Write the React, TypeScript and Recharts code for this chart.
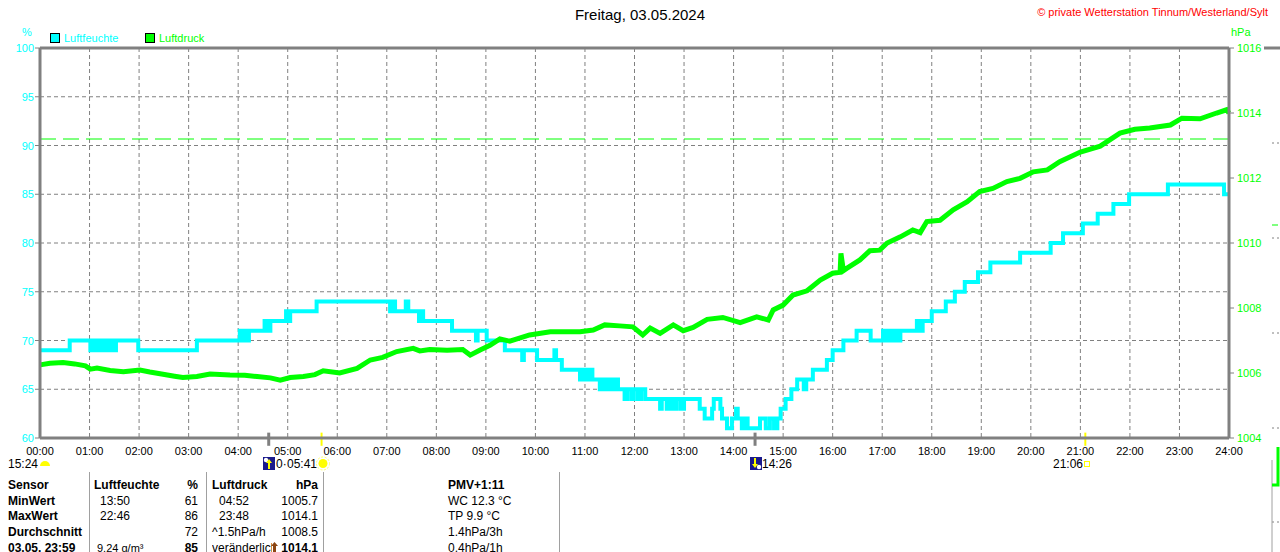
import React from 'react';
import { LineChart, Line, XAxis, YAxis, CartesianGrid, ReferenceLine } from 'recharts';

const FONT = '"Liberation Sans", Arial, sans-serif';
const CYAN = '#00FFFF';
const GREEN = '#00FF00';
const GRAY = '#808080';

// time in minutes since midnight
const hourTicks = [0, 60, 120, 180, 240, 300, 360, 420, 480, 540, 600, 660, 720, 780, 840, 900, 960, 1020, 1080, 1140, 1200, 1260, 1320, 1380, 1440];
const humidityTicks = [60, 65, 70, 75, 80, 85, 90, 95, 100];
const pressureTicks = [1004, 1006, 1008, 1010, 1012, 1014, 1016];

// humidity (%) step breakpoints: [minute, value]
const humidityRaw: [number, number][] = [
  [0, 69], [36, 70], [61, 69], [64, 70], [68, 69], [71, 70], [75, 69], [79, 70], [82, 69], [86, 70], [90, 69], [92, 70],
  [119, 69], [190, 70], [242, 71], [245, 70], [248, 71], [251, 70], [253, 71], [272, 72], [275, 71], [279, 72],
  [298, 73], [300, 72], [303, 73], [335, 74], [424, 73], [428, 74], [430, 73], [443, 74], [446, 73],
  [459, 72], [462, 73], [464, 72], [499, 71], [528, 70], [530, 71], [541, 70], [563, 69], [584, 68], [586, 69],
  [602, 68], [623, 69], [625, 68], [632, 67], [654, 66], [658, 67], [662, 66], [665, 67], [669, 66],
  [678, 65], [681, 66], [685, 65], [689, 66], [693, 65], [696, 66], [700, 65], [708, 64], [711, 65], [716, 64],
  [719, 65], [724, 64], [728, 65], [733, 64], [751, 63], [753, 64], [759, 63], [763, 64], [767, 63], [771, 64],
  [776, 63], [780, 64], [799, 63], [805, 62], [814, 63], [816, 64], [824, 63], [826, 62], [832, 61], [838, 62],
  [843, 63], [845, 62], [850, 61], [854, 62], [857, 61], [872, 62], [879, 61], [884, 62], [889, 61], [893, 62],
  [897, 63], [903, 64], [910, 65], [917, 66], [925, 65], [928, 66], [936, 67], [953, 68], [960, 69], [973, 70],
  [989, 71], [1006, 70], [1021, 71], [1025, 70], [1028, 71], [1032, 70], [1035, 71], [1039, 70], [1042, 71],
  [1062, 72], [1065, 71], [1069, 72], [1080, 73], [1097, 74], [1108, 75], [1120, 76], [1136, 77], [1151, 78],
  [1187, 79], [1224, 80], [1239, 81], [1263, 82], [1281, 83], [1300, 84], [1319, 85], [1366, 86], [1434, 85], [1440, 85],
];

// air pressure (hPa): [minute, value]
const pressureRaw: [number, number][] = [
  [0, 1006.25], [12, 1006.3], [28, 1006.32], [42, 1006.28], [55, 1006.22], [61, 1006.12], [69, 1006.15], [85, 1006.08],
  [101, 1006.04], [121, 1006.09], [133, 1006.03], [149, 1005.96], [163, 1005.9], [173, 1005.86], [190, 1005.89],
  [206, 1005.97], [230, 1005.94], [248, 1005.93], [263, 1005.89], [279, 1005.85], [291, 1005.78], [303, 1005.86],
  [319, 1005.89], [333, 1005.95], [343, 1006.07], [363, 1006.0], [384, 1006.14], [400, 1006.4], [415, 1006.48],
  [432, 1006.66], [452, 1006.76], [460, 1006.68], [472, 1006.72], [493, 1006.7], [512, 1006.72], [521, 1006.55],
  [533, 1006.71], [545, 1006.85], [557, 1007.05], [569, 1006.98], [593, 1007.17], [618, 1007.27], [654, 1007.27],
  [670, 1007.32], [684, 1007.48], [702, 1007.45], [718, 1007.42], [730, 1007.17], [739, 1007.38], [751, 1007.22],
  [767, 1007.48], [779, 1007.3], [791, 1007.4], [808, 1007.65], [827, 1007.71], [848, 1007.55], [868, 1007.73],
  [882, 1007.63], [888, 1007.94], [900, 1008.09], [912, 1008.4], [929, 1008.53], [945, 1008.86], [960, 1009.07],
  [969, 1009.1], [970, 1009.68], [973, 1009.15], [977, 1009.22], [993, 1009.48], [1005, 1009.76], [1017, 1009.78],
  [1026, 1010.0], [1042, 1010.19], [1057, 1010.4], [1066, 1010.32], [1074, 1010.66], [1090, 1010.7], [1106, 1011.02],
  [1123, 1011.27], [1138, 1011.58], [1154, 1011.68], [1171, 1011.89], [1187, 1011.99], [1203, 1012.19], [1220, 1012.25],
  [1235, 1012.5], [1260, 1012.8], [1284, 1012.98], [1308, 1013.38], [1326, 1013.5], [1344, 1013.54], [1369, 1013.63],
  [1383, 1013.84], [1405, 1013.82], [1425, 1014.0], [1437, 1014.1], [1440, 1014.0],
];

const standardPressure = 1013.2;

// astronomical events on the time axis
const events = [
  { t: 277, color: GRAY, width: 3 }, // moonrise 04:37
  { t: 341, color: '#FFFF00', width: 2 }, // sunrise 05:41
  { t: 866, color: GRAY, width: 3 }, // moonset 14:26
  { t: 1266, color: '#FFFF00', width: 2 }, // sunset 21:06
];

const humidityData = humidityRaw.map(([t, v]) => ({ t, h: v }));
const pressureData = pressureRaw.map(([t, v]) => ({ t, p: v }));

const fmtHour = (m: number) => `${String(Math.round(m / 60)).padStart(2, '0')}:00`;

const LeftTick = (props: any) => {
  const { x, y, payload } = props;
  return (
    <text x={x} y={y} dy={4} textAnchor="end" fill={CYAN} fontSize={11} fontFamily={FONT}>
      {payload.value}
    </text>
  );
};
const RightTick = (props: any) => {
  const { x, y, payload } = props;
  return (
    <text x={x} y={y} dy={4} textAnchor="start" fill={GREEN} fontSize={11} fontFamily={FONT}>
      {payload.value}
    </text>
  );
};
const BottomTick = (props: any) => {
  const { x, y, payload } = props;
  return (
    <text x={x} y={y} dy={9} textAnchor="middle" fill="#000" fontSize={11} fontFamily={FONT}>
      {fmtHour(payload.value)}
    </text>
  );
};

const txt = (s: string, x: number, y: number, opts: any = {}) => (
  <div
    style={{
      position: 'absolute',
      left: opts.right !== undefined ? undefined : x,
      right: opts.right !== undefined ? 1280 - opts.right : undefined,
      top: y,
      fontSize: opts.size || 12,
      fontWeight: opts.bold ? 700 : 400,
      color: opts.color || '#000',
      whiteSpace: 'nowrap',
      lineHeight: '14px',
      fontFamily: FONT,
    }}
  >
    {s}
  </div>
);

const tableRows = [
  { label: 'Sensor', hTime: 'Luftfeuchte', hVal: '%', pTime: 'Luftdruck', pVal: 'hPa', extra: 'PMV+1:11', head: true },
  { label: 'MinWert', hTime: '13:50', hVal: '61', pTime: '04:52', pVal: '1005.7', extra: 'WC 12.3 °C' },
  { label: 'MaxWert', hTime: '22:46', hVal: '86', pTime: '23:48', pVal: '1014.1', extra: 'TP 9.9 °C' },
  { label: 'Durchschnitt', hTime: '', hVal: '72', pTime: '^1.5hPa/h', pVal: '1008.5', extra: '1.4hPa/3h' },
  { label: '03.05. 23:59', hTime: '9.24 g/m³', hVal: '85', pTime: 'veränderlich', pVal: '1014.1', extra: '0.4hPa/1h', last: true },
];

export default function App() {
  return (
    <div style={{ position: 'absolute', left: 0, top: 0, width: 1280, height: 552, background: '#fff', overflow: 'hidden', fontFamily: FONT }}>
      <LineChart width={1280} height={552} margin={{ top: 48, right: 0, bottom: 84, left: 0 }}>
        <CartesianGrid yAxisId="left" stroke={GRAY} strokeDasharray="4 3" strokeWidth={1} />
        <XAxis
          dataKey="t"
          type="number"
          domain={[0, 1440]}
          ticks={hourTicks}
          interval={0}
          allowDuplicatedCategory={false}
          axisLine={{ stroke: GRAY, strokeWidth: 3 }}
          tickLine={false}
          tickSize={0}
          tickMargin={8}
          height={30}
          tick={<BottomTick />}
        />
        <YAxis
          yAxisId="left"
          orientation="left"
          domain={[60, 100]}
          ticks={humidityTicks}
          interval={0}
          width={40}
          axisLine={{ stroke: GRAY, strokeWidth: 3 }}
          tickLine={{ stroke: GRAY }}
          tickSize={5}
          tickMargin={1}
          tick={<LeftTick />}
        />
        <YAxis
          yAxisId="right"
          orientation="right"
          domain={[1004, 1016]}
          ticks={pressureTicks}
          interval={0}
          width={51}
          axisLine={{ stroke: GRAY, strokeWidth: 3 }}
          tickLine={{ stroke: GRAY }}
          tickSize={5}
          tickMargin={3}
          tick={<RightTick />}
        />
        <ReferenceLine yAxisId="left" y={100} stroke={GRAY} strokeWidth={3} />
        <ReferenceLine yAxisId="right" y={standardPressure} stroke={GREEN} strokeDasharray="16 7" strokeWidth={1} />
        <Line
          yAxisId="left"
          data={humidityData}
          dataKey="h"
          type="stepAfter"
          stroke={CYAN}
          strokeWidth={4}
          dot={false}
          isAnimationActive={false}
        />
        <Line
          yAxisId="right"
          data={pressureData}
          dataKey="p"
          type="linear"
          stroke={GREEN}
          strokeWidth={5}
          strokeLinejoin="miter"
          dot={false}
          isAnimationActive={false}
        />
        {events.map((e, i) => (
          <ReferenceLine
            key={i}
            yAxisId="left"
            ifOverflow="visible"
            segment={[{ x: e.t, y: 60.55 }, { x: e.t, y: 59.2 }]}
            stroke={e.color}
            strokeWidth={e.width}
          />
        ))}
      </LineChart>

      {/* title and header texts */}
      <div style={{ position: 'absolute', left: 0, width: 1280, top: 6, textAlign: 'center', fontSize: 15, color: '#000', fontFamily: FONT }}>
        Freitag, 03.05.2024
      </div>
      {txt('© private Wetterstation Tinnum/Westerland/Sylt', 0, 5, { right: 1268, size: 11, color: '#FF0000' })}
      {txt('%', 22, 25, { size: 11, color: CYAN })}
      {txt('hPa', 1231, 25, { size: 11, color: GREEN })}

      {/* legend */}
      <div style={{ position: 'absolute', left: 50, top: 33, width: 8, height: 8, background: CYAN, border: '1px solid #000' }} />
      {txt('Luftfeuchte', 64, 31, { size: 11, color: CYAN })}
      <div style={{ position: 'absolute', left: 145, top: 33, width: 8, height: 8, background: GREEN, border: '1px solid #000' }} />
      {txt('Luftdruck', 159, 31, { size: 11, color: GREEN })}

      {/* sun / moon line */}
      {txt('15:24', 8, 457)}
      <svg style={{ position: 'absolute', left: 38, top: 458 }} width={14} height={10}>
        <path d="M2 8 A5 5 0 0 1 12 8 Z" fill="#FFFF00" />
      </svg>
      <svg style={{ position: 'absolute', left: 263, top: 457 }} width={12} height={13}>
        <rect x={0} y={0} width={12} height={13} fill="#1a1a8c" />
        <circle cx={3} cy={3} r={2.2} fill="#fff" />
        <path d="M6 2 L9 6 L7 6 L7 12 L5 12 L5 6 L3 6 Z" fill="#FFFF00" />
      </svg>
      {txt('0·', 276, 457)}
      {txt('05:41', 287, 457)}
      <svg style={{ position: 'absolute', left: 316, top: 456 }} width={14} height={15}>
        <circle cx={7} cy={7.5} r={4.5} fill="#FFFF00" />
        <circle cx={7} cy={7.5} r={6.5} fill="none" stroke="#FFFF66" strokeWidth={1} strokeDasharray="2 1.5" />
      </svg>
      <svg style={{ position: 'absolute', left: 750, top: 457 }} width={12} height={13}>
        <rect x={0} y={0} width={12} height={13} fill="#1a1a8c" />
        <circle cx={9} cy={10} r={2.2} fill="#fff" />
        <path d="M5 11 L2 7 L4 7 L4 1 L6 1 L6 7 L8 7 Z" fill="#FFFF00" />
      </svg>
      {txt('14:26', 762, 457)}
      {txt('21:06', 1053, 457)}
      <div style={{ position: 'absolute', left: 1084, top: 461, width: 4, height: 4, border: '1px solid #FFFF00' }} />

      {/* statistics table */}
      {[89, 206, 323, 559].map((x) => (
        <div key={x} style={{ position: 'absolute', left: x, top: 472, width: 1, height: 80, background: '#a0a0a0' }} />
      ))}
      {tableRows.map((r, i) => {
        const y = 478 + Math.round(i * 15.7);
        return (
          <React.Fragment key={i}>
            {txt(r.label, 8, y, { bold: true })}
            {txt(r.hTime, r.head ? 94 : r.last ? 97 : 100, y, { bold: !!r.head, size: r.last ? 11 : 12 })}
            {txt(r.hVal, 0, y, { right: 198, bold: !!r.head || !!r.last })}
            {r.last ? (
              <div style={{ position: 'absolute', left: 212, top: y, width: 60, overflow: 'hidden', fontSize: 12, lineHeight: '14px', whiteSpace: 'nowrap', fontFamily: FONT }}>
                {r.pTime}
              </div>
            ) : (
              txt(r.pTime, r.head ? 212 : i === 3 ? 212 : 219, y, { bold: !!r.head })
            )}
            {r.last && (
              <svg style={{ position: 'absolute', left: 271, top: y + 1 }} width={7} height={12}>
                <path d="M3.5 0 L7 4 L5 4 L5 12 L2 12 L2 4 L0 4 Z" fill="#8B4513" />
              </svg>
            )}
            {txt(r.pVal, 0, y, { right: 318, bold: !!r.head || !!r.last })}
            {txt(r.extra, 448, y, { bold: !!r.head })}
          </React.Fragment>
        );
      })}

      {/* clipped neighbour chart at the right edge */}
      <svg style={{ position: 'absolute', left: 1262, top: 0 }} width={18} height={552}>
        <line x1={2} y1={48} x2={18} y2={48} stroke={GRAY} strokeWidth={3} />
        {[143, 238, 333, 428, 522].map((y) => (
          <line key={y} x1={10} y1={y} x2={18} y2={y} stroke={GRAY} strokeDasharray="2 3" />
        ))}
        <line x1={10} y1={225} x2={16} y2={225} stroke={GREEN} />
        <line x1={10} y1={460} x2={10} y2={552} stroke="#a0a0a0" />
        <polyline points="10,485 16,485 16,447" fill="none" stroke={GREEN} strokeWidth={3} />
      </svg>
    </div>
  );
}
